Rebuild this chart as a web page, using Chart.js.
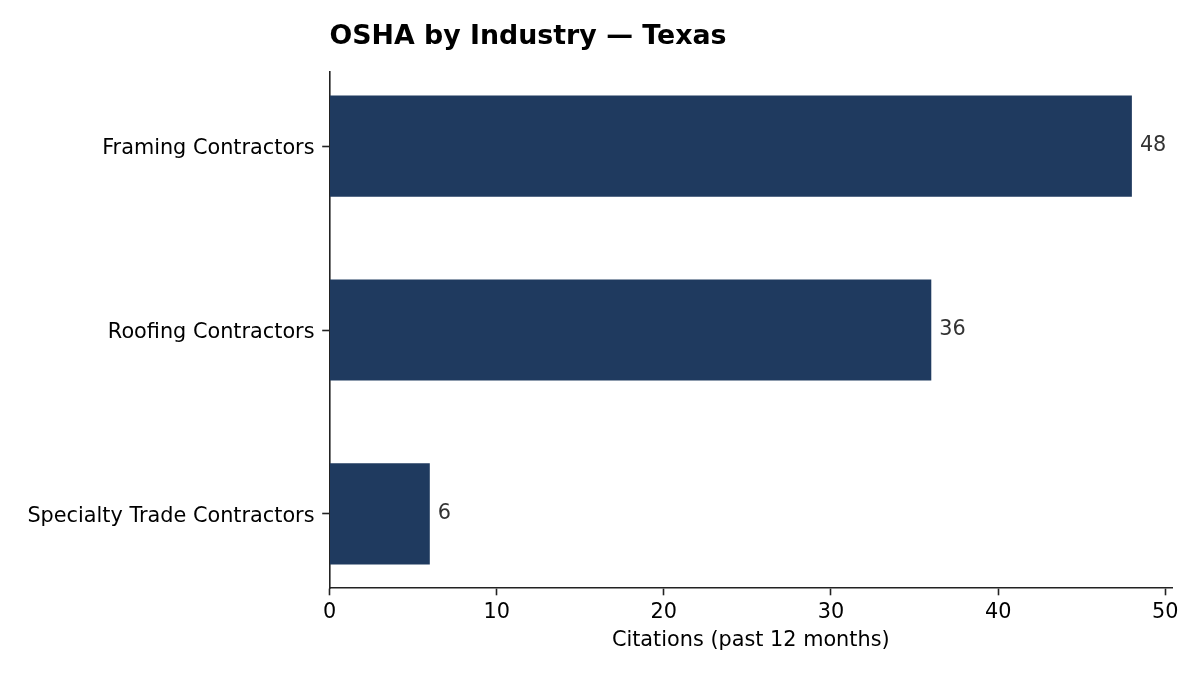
<!DOCTYPE html>
<html>
<head>
<meta charset="utf-8">
<title>OSHA by Industry — Texas</title>
<script src="https://cdn.jsdelivr.net/npm/chart.js@4.4.1/dist/chart.umd.min.js"></script>
<style>
  html, body { margin: 0; padding: 0; background: #fff; }
  #wrap { width: 1200px; height: 675px; position: relative; }
</style>
</head>
<body>
<div id="wrap"><canvas id="chart"></canvas></div>
<script>
// data
const categories = ['Framing Contractors', 'Roofing Contractors', 'Specialty Trade Contractors'];
const citations = [48, 36, 6];
const xTicks = [0, 10, 20, 30, 40, 50];

const chartTitle = 'OSHA by Industry — Texas';
const xTitle = 'Citations (past 12 months)';

const FONT = "'DejaVu Sans', sans-serif";
const BAR = '#1f3a5f';
const SPINE = '#222222';

// title drawn flush with the plot area's left edge, like matplotlib's loc='left'
const titlePlugin = {
    id: 'leftTitle',
    afterDraw(chart) {
        const { ctx, chartArea } = chart;
        ctx.save();
        ctx.font = `bold 26.8px ${FONT}`;
        ctx.fillStyle = '#000';
        ctx.textAlign = 'left';
        ctx.textBaseline = 'alphabetic';
        ctx.fillText(chartTitle, chartArea.left, 43.5);
        ctx.restore();
    }
};

// value labels at the end of each bar
const valueLabels = {
    id: 'valueLabels',
    afterDatasetsDraw(chart) {
        const { ctx } = chart;
        const meta = chart.getDatasetMeta(0);
        ctx.save();
        ctx.font = `20.8px ${FONT}`;
        ctx.fillStyle = '#333';
        ctx.textAlign = 'left';
        ctx.textBaseline = 'middle';
        meta.data.forEach((bar, i) => {
            ctx.fillText(String(citations[i]), bar.x + 8, bar.y - 0.5);
        });
        ctx.restore();
    }
};

new Chart(document.getElementById('chart'), {
    type: 'bar',
    data: {
        datasets: [{
            data: categories.map((c, i) => ({ x: citations[i], y: i })),
            backgroundColor: BAR,
            borderWidth: 0,
            barPercentage: 0.55,
            categoryPercentage: 1.0
        }]
    },
    options: {
        indexAxis: 'y',
        responsive: true,
        maintainAspectRatio: false,
        animation: false,
        devicePixelRatio: 1,
        layout: { padding: { top: 72, right: 28, bottom: 21.5, left: 0 } },
        plugins: {
            legend: { display: false },
            tooltip: { enabled: false },
            title: { display: false }
        },
        scales: {
            x: {
                type: 'linear',
                position: 'bottom',
                min: 0,
                max: 50.4,
                offset: false,
                afterBuildTicks: (scale) => { scale.ticks = xTicks.map(v => ({ value: v })); },
                afterFit: (scale) => { scale.height = 65.5; },
                ticks: {
                    color: '#000',
                    font: { family: FONT, size: 20.8 },
                    padding: 4.5,
                    maxRotation: 0
                },
                grid: {
                    display: true,
                    offset: false,
                    drawOnChartArea: false,
                    drawTicks: true,
                    tickLength: 7.3,
                    tickColor: SPINE,
                    tickWidth: 1.6
                },
                border: { display: true, color: SPINE, width: 1.6 },
                title: {
                    display: true,
                    text: xTitle,
                    color: '#000',
                    font: { family: FONT, size: 20.8 },
                    padding: 0
                }
            },
            y: {
                type: 'linear',
                position: 'left',
                reverse: true,
                min: -0.4025,
                max: 2.4025,
                offset: false,
                afterBuildTicks: (scale) => { scale.ticks = categories.map((c, i) => ({ value: i })); },
                afterFit: (scale) => { scale.width = 329.5; },
                ticks: {
                    color: '#000',
                    font: { family: FONT, size: 20.8 },
                    padding: 7.7,
                    labelOffset: 2.5,
                    callback: (v) => categories[v]
                },
                grid: {
                    display: true,
                    offset: false,
                    drawOnChartArea: false,
                    drawTicks: true,
                    tickLength: 7.3,
                    tickColor: SPINE,
                    tickWidth: 1.6
                },
                border: { display: true, color: SPINE, width: 1.6 }
            }
        }
    },
    plugins: [titlePlugin, valueLabels]
});
</script>
</body>
</html>
